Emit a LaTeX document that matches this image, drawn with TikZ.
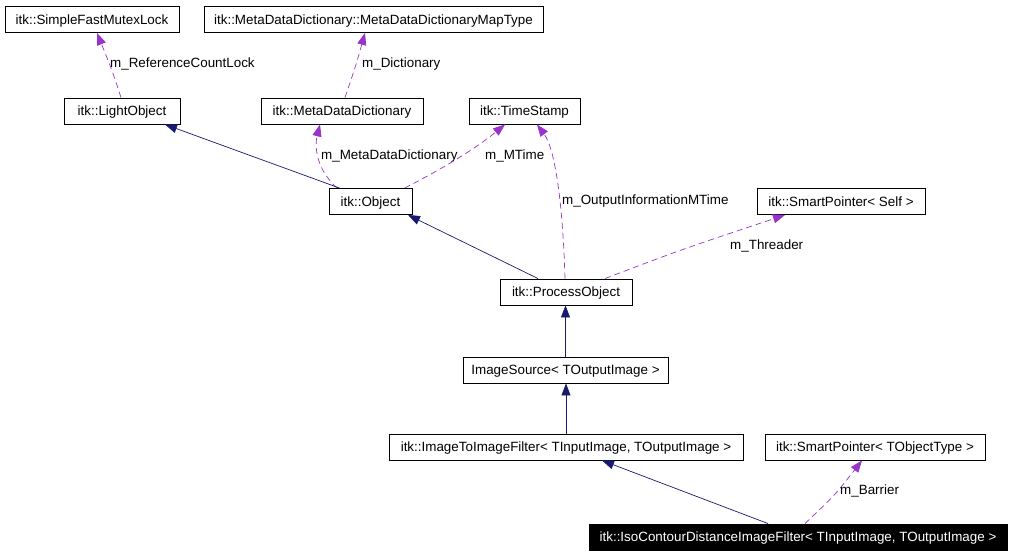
\documentclass[tikz,border=0pt]{standalone}
\usepackage{fontspec}
\setmainfont{Liberation Sans}
\usetikzlibrary{arrows.meta}
\definecolor{inh}{HTML}{191970}
\definecolor{usg}{HTML}{9A32CD}
\tikzset{
  cls/.style={draw=black, line width=0.9pt, fill=white, minimum height=26pt, inner sep=0pt, text height=11pt, text depth=2pt, font=\fontsize{13.4}{15}\selectfont},
  hl/.style={cls, fill=black, text=white},
  inhedge/.style={draw=inh, line width=0.7pt, -{Triangle[length=12pt,width=9pt]}},
  usgedge/.style={draw=usg, line width=0.7pt, dash pattern=on 6pt off 4pt, -{Triangle[length=12pt,width=9pt]}},
  lbl/.style={anchor=west, inner sep=0pt, font=\fontsize{13.4}{15}\selectfont}
}
\begin{document}
\begin{tikzpicture}[x=1pt,y=1pt]
\useasboundingbox[fill=white] (0,0) rectangle (1012,-555);
\node[cls, minimum width=174pt] (sfml) at (92,-19.5) {itk::SimpleFastMutexLock};
\node[cls, minimum width=339pt] (mapt) at (373.5,-19.5) {itk::MetaDataDictionary::MetaDataDictionaryMapType};
\node[cls, minimum width=116pt] (light) at (122,-111) {itk::LightObject};
\node[cls, minimum width=162pt] (mdd) at (342,-111) {itk::MetaDataDictionary};
\node[cls, minimum width=111pt] (ts) at (524.5,-111) {itk::TimeStamp};
\node[cls, minimum width=83pt] (obj) at (370.5,-201.5) {itk::Object};
\node[cls, minimum width=168pt] (spself) at (841,-201.5) {itk::SmartPointer< Self >};
\node[cls, minimum width=132pt] (po) at (566,-292) {itk::ProcessObject};
\node[cls, minimum width=205pt] (is) at (565.5,-370) {ImageSource< TOutputImage >};
\node[cls, minimum width=354pt] (itif) at (566,-447) {itk::ImageToImageFilter< TInputImage, TOutputImage >};
\node[cls, minimum width=220pt] (spobj) at (875,-447) {itk::SmartPointer< TObjectType >};
\node[hl, minimum width=418pt] (iso) at (798,-537) {itk::IsoContourDistanceImageFilter< TInputImage, TOutputImage >};

% usage edges
\draw[usgedge] ([xshift=-1pt]light.north) .. controls (112,-70) .. ([xshift=5pt]sfml.south);
\node[lbl] (l1) at (110,-64) {m\_ReferenceCountLock};
\draw[usgedge] ([xshift=3pt]mdd.north) .. controls (356,-65) .. ([xshift=-8.5pt]mapt.south);
\node[lbl] (l2) at (362,-64) {m\_Dictionary};
\draw[usgedge] ([xshift=-33.5pt]obj.north) .. controls (312,-165) and (316,-140) .. ([xshift=-22pt]mdd.south);
\node[lbl] (l3) at (321,-156) {m\_MetaDataDictionary};
\draw[usgedge] ([xshift=34pt]obj.north) .. controls (450,-165) and (480,-145) .. ([xshift=-19.5pt]ts.south);
\node[lbl] (l4) at (485,-156) {m\_MTime};
\draw[usgedge] ([xshift=-1pt]po.north) .. controls (563,-210) and (556,-150) .. ([xshift=12.5pt]ts.south);
\node[lbl] (l5) at (562,-201) {m\_OutputInformationMTime};
\draw[usgedge] ([xshift=39pt]po.north) .. controls (680,-250) .. ([xshift=-56pt]spself.south);
\node[lbl] (l6) at (730,-246) {m\_Threader};
\draw[usgedge] ([xshift=7pt]iso.north) .. controls (835,-495) .. ([xshift=-13pt]spobj.south);
\node[lbl] (l7) at (840,-491) {m\_Barrier};

% inheritance edges
\draw[inhedge] ([xshift=-31pt]obj.north) -- ([xshift=43pt]light.south);
\draw[inhedge] ([xshift=-28pt]po.north) -- ([xshift=37.5pt]obj.south);
\draw[inhedge] (is.north) -- (is.north |- po.south);
\draw[inhedge] (itif.north) -- (itif.north |- is.south);
\draw[inhedge] ([xshift=-30pt]iso.north) -- ([xshift=36pt]itif.south);
\end{tikzpicture}
\end{document}
